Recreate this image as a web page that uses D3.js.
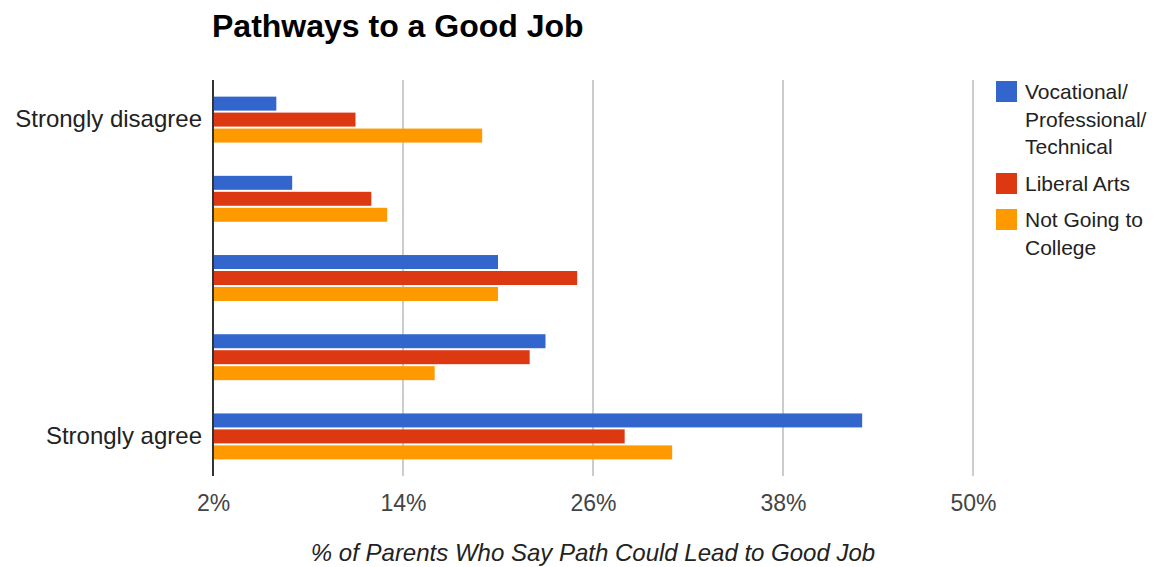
<!DOCTYPE html>
<html lang="en">
<head>
  <meta charset="UTF-8">
  <title>Pathways to a Good Job</title>
  <script src="https://d3js.org/d3.v7.min.js"></script>
  <style>
    body { margin: 0; background: #fff; }
    svg { display: block; font-family: "Liberation Sans", Arial, sans-serif; }
  </style>
</head>
<body>
<div id="chart"></div>
<script>
// data
var categories = ["Strongly disagree", "", " ", "  ", "Strongly agree"];
var seriesNames = ["Vocational/Professional/Technical", "Liberal Arts", "Not Going to College"];
var vocational = [6, 7, 20, 23, 43];
var liberalArts = [11, 12, 25, 22, 28];
var notCollege = [19, 13, 20, 16, 31];
var tickValues = [2, 14, 26, 38, 50];
var legendLines = [["Vocational/", "Professional/", "Technical"], ["Liberal Arts"], ["Not Going to", "College"]];
var colors = ["#3366cc", "#dc3912", "#ff9900"];

var W = 1155, H = 567;
var margin = {top: 80, right: 182, bottom: 91, left: 213},
  width = W - margin.left - margin.right,
  height = H - margin.top - margin.bottom;

var svg = d3.select("#chart")
  .append("svg")
    .attr("width", W)
    .attr("height", H);

var g = svg.append("g")
  .attr("transform", "translate(" + margin.left + "," + margin.top + ")");

var x = d3.scaleLinear()
  .domain([2, 50])
  .range([0, width]);

var y = d3.scaleBand()
  .domain(categories)
  .range([0, height])
  .paddingInner(0.42)
  .paddingOuter(0.21);

var ySub = d3.scaleBand()
  .domain(d3.range(seriesNames.length))
  .range([0, y.bandwidth()])
  .paddingInner(0.125);

// gridlines
g.append("g")
  .selectAll("line")
  .data(tickValues.slice(1))
  .enter().append("line")
    .attr("x1", function(d) { return x(d); })
    .attr("x2", function(d) { return x(d); })
    .attr("y1", 0)
    .attr("y2", height)
    .style("stroke", "#cccccc")
    .style("stroke-width", 2);

// bars
var table = categories.map(function(c, i) {
  return {cat: c, vals: [vocational[i], liberalArts[i], notCollege[i]]};
});

var groups = g.selectAll(".grp")
  .data(table)
  .enter().append("g")
    .attr("class", "grp")
    .attr("transform", function(d) { return "translate(0," + y(d.cat) + ")"; });

groups.selectAll("rect")
  .data(function(d) { return d.vals.map(function(v, k) { return {v: v, k: k}; }); })
  .enter().append("rect")
    .attr("x", x(2))
    .attr("y", function(d) { return ySub(d.k); })
    .attr("width", function(d) { return x(d.v) - x(2); })
    .attr("height", ySub.bandwidth())
    .style("fill", function(d) { return colors[d.k]; });

// baseline axis line
g.append("line")
  .attr("x1", x(2)).attr("x2", x(2))
  .attr("y1", 0).attr("y2", height)
  .style("stroke", "#333")
  .style("stroke-width", 2);

// x axis labels
var xAxis = g.append("g")
  .attr("transform", "translate(0," + height + ")")
  .call(d3.axisBottom(x).tickValues(tickValues).tickSize(0).tickPadding(19)
    .tickFormat(function(d) { return d + "%"; }));
xAxis.select(".domain").remove();
xAxis.selectAll("text")
  .style("font-size", "23px")
  .style("font-family", "Liberation Sans, Arial, sans-serif")
  .style("fill", "#444");

// y axis labels
var yAxis = g.append("g")
  .call(d3.axisLeft(y).tickSize(0).tickPadding(11));
yAxis.select(".domain").remove();
yAxis.selectAll("text")
  .style("font-size", "24px")
  .style("font-family", "Liberation Sans, Arial, sans-serif")
  .style("fill", "#222");

// title
svg.append("text")
  .attr("x", 212)
  .attr("y", 37)
  .style("font-size", "32px")
  .style("font-weight", "bold")
  .style("fill", "#000")
  .text("Pathways to a Good Job");

// x axis title
svg.append("text")
  .attr("x", margin.left + width / 2)
  .attr("y", 561)
  .attr("text-anchor", "middle")
  .style("font-size", "24px")
  .style("font-style", "italic")
  .style("fill", "#222")
  .text("% of Parents Who Say Path Could Lead to Good Job");

// legend
var legendTop = [81, 173, 209];
var legend = svg.append("g");
legendLines.forEach(function(lines, i) {
  legend.append("rect")
    .attr("x", 996)
    .attr("y", legendTop[i])
    .attr("width", 21)
    .attr("height", 21)
    .style("fill", colors[i]);
  lines.forEach(function(t, j) {
    legend.append("text")
      .attr("x", 1025)
      .attr("y", legendTop[i] + 18 + j * 27.5)
      .style("font-size", "21px")
      .style("fill", "#222")
      .text(t);
  });
});
</script>
</body>
</html>
